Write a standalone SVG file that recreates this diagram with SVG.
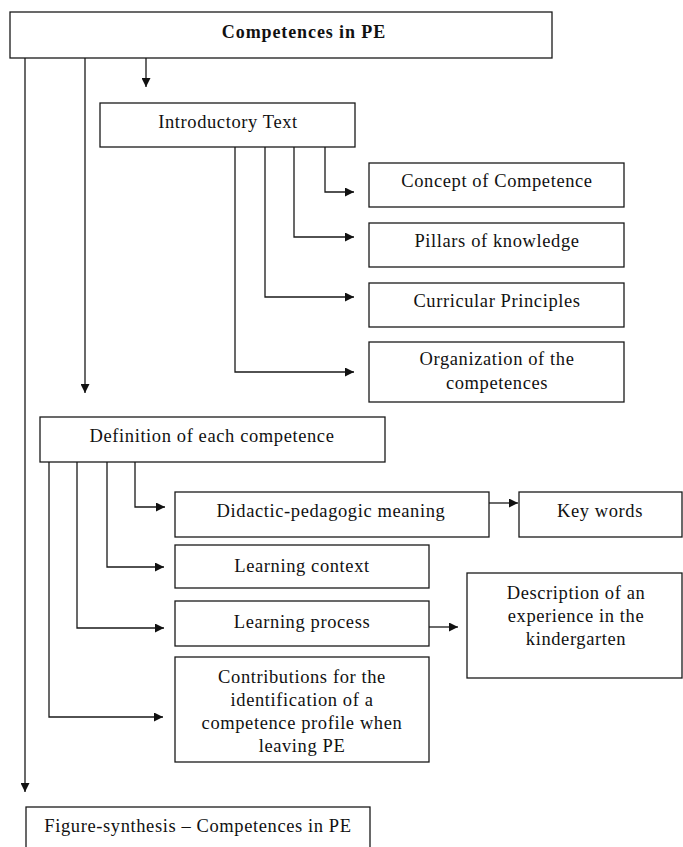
<svg xmlns="http://www.w3.org/2000/svg" width="683" height="847" viewBox="0 0 683 847">
  <style>
    .box { fill: #ffffff; stroke: #1a1a1a; stroke-width: 1.3; }
    .lbl { font-family: "Liberation Serif", "Times New Roman", serif; font-size: 18.5px; fill: #111111; text-anchor: middle; letter-spacing: 0.6px; }
    .title { font-weight: bold; font-size: 18px; letter-spacing: 0.9px; }
    .edge { fill: none; stroke: #1a1a1a; stroke-width: 1.3; }
  </style>
  <defs>
    <marker id="arrow" viewBox="0 0 10 10" refX="10" refY="5" markerWidth="10" markerHeight="9" markerUnits="userSpaceOnUse" orient="auto">
      <path d="M0,0 L10,5 L0,10 Z" fill="#111111"/>
    </marker>
  </defs>

  <rect width="683" height="847" fill="#ffffff"/>

  <!-- connectors -->
  <g id="connectors">
    <path class="edge" d="M25,58 V792" marker-end="url(#arrow)"/>
    <path class="edge" d="M85,58 V393" marker-end="url(#arrow)"/>
    <path class="edge" d="M146,58 V87" marker-end="url(#arrow)"/>

    <path class="edge" d="M325,147 V192 H354" marker-end="url(#arrow)"/>
    <path class="edge" d="M294,147 V237 H354" marker-end="url(#arrow)"/>
    <path class="edge" d="M265,147 V297 H354" marker-end="url(#arrow)"/>
    <path class="edge" d="M235,147 V372 H354" marker-end="url(#arrow)"/>

    <path class="edge" d="M135,462 V507 H165" marker-end="url(#arrow)"/>
    <path class="edge" d="M107,462 V567 H164" marker-end="url(#arrow)"/>
    <path class="edge" d="M77,462 V628 H164" marker-end="url(#arrow)"/>
    <path class="edge" d="M49,462 V717 H163" marker-end="url(#arrow)"/>

    <path class="edge" d="M489,503 H518" marker-end="url(#arrow)"/>
    <path class="edge" d="M429,627 H458" marker-end="url(#arrow)"/>
  </g>

  <!-- nodes -->
  <g id="node-competences">
    <rect class="box" x="10" y="12" width="542" height="46"/>
    <text class="lbl title" x="304" y="38">Competences in PE</text>
  </g>

  <g id="node-introductory">
    <rect class="box" x="100" y="103" width="255" height="44"/>
    <text class="lbl" x="228" y="128">Introductory Text</text>
  </g>

  <g id="node-concept">
    <rect class="box" x="369" y="163" width="255" height="44"/>
    <text class="lbl" x="497" y="187">Concept of Competence</text>
  </g>

  <g id="node-pillars">
    <rect class="box" x="369" y="223" width="255" height="44"/>
    <text class="lbl" x="497" y="247">Pillars of knowledge</text>
  </g>

  <g id="node-curricular">
    <rect class="box" x="369" y="283" width="255" height="44"/>
    <text class="lbl" x="497" y="307">Curricular Principles</text>
  </g>

  <g id="node-organization">
    <rect class="box" x="369" y="342" width="255" height="60"/>
    <text class="lbl" x="497" y="365">Organization of the</text>
    <text class="lbl" x="497" y="389">competences</text>
  </g>

  <g id="node-definition">
    <rect class="box" x="40" y="417" width="345" height="45"/>
    <text class="lbl" x="212" y="442">Definition of each competence</text>
  </g>

  <g id="node-didactic">
    <rect class="box" x="175" y="492" width="314" height="45"/>
    <text class="lbl" x="331" y="517">Didactic-pedagogic meaning</text>
  </g>

  <g id="node-keywords">
    <rect class="box" x="519" y="492" width="163" height="45"/>
    <text class="lbl" x="600" y="517">Key words</text>
  </g>

  <g id="node-context">
    <rect class="box" x="175" y="545" width="254" height="43"/>
    <text class="lbl" x="302" y="572">Learning context</text>
  </g>

  <g id="node-process">
    <rect class="box" x="175" y="601" width="254" height="45"/>
    <text class="lbl" x="302" y="628">Learning process</text>
  </g>

  <g id="node-description">
    <rect class="box" x="467" y="573" width="215" height="105"/>
    <text class="lbl" x="576" y="599">Description of an</text>
    <text class="lbl" x="576" y="622">experience in the</text>
    <text class="lbl" x="576" y="645">kindergarten</text>
  </g>

  <g id="node-contributions">
    <rect class="box" x="175" y="657" width="254" height="105"/>
    <text class="lbl" x="302" y="683">Contributions for the</text>
    <text class="lbl" x="302" y="706">identification of a</text>
    <text class="lbl" x="302" y="729">competence profile when</text>
    <text class="lbl" x="302" y="752">leaving PE</text>
  </g>

  <g id="node-synthesis">
    <rect class="box" x="26" y="807" width="344" height="50"/>
    <text class="lbl" x="198" y="832">Figure-synthesis – Competences in PE</text>
  </g>
</svg>
